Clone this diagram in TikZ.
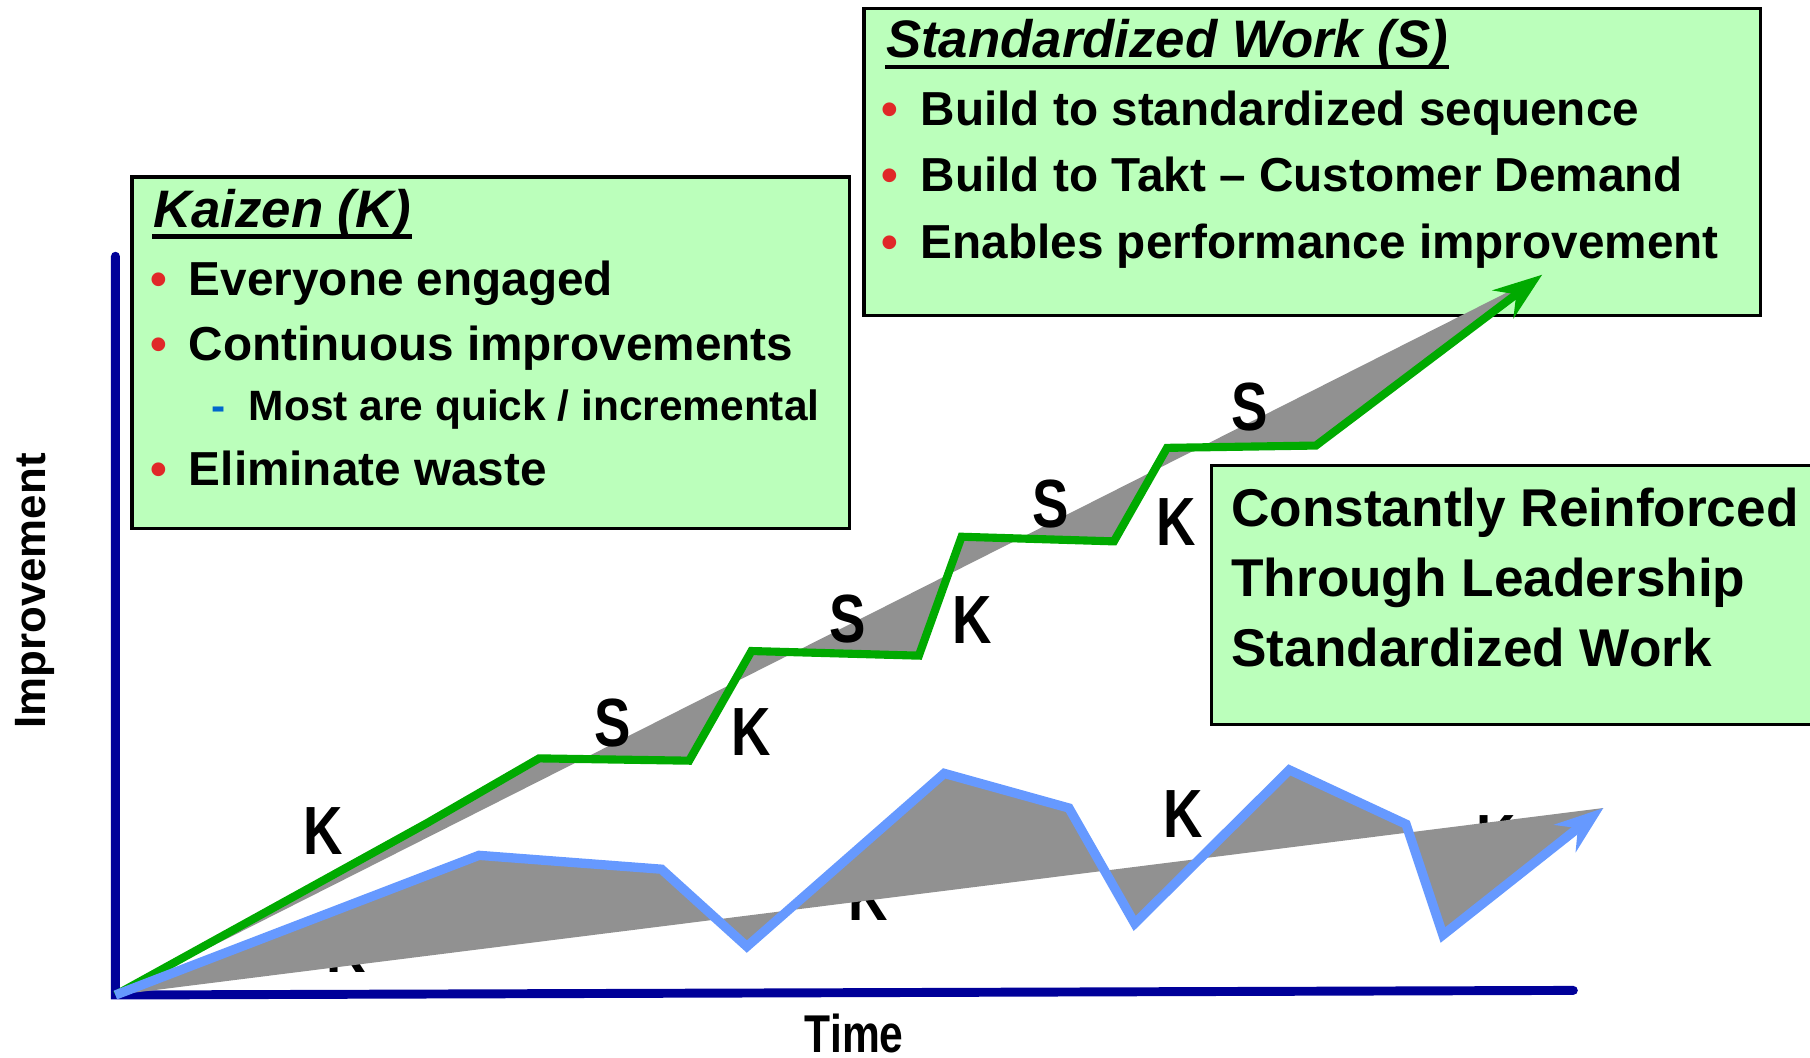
\documentclass[tikz,border=0pt]{standalone}
\usepackage{fontspec}
\setmainfont{Liberation Sans}
\newfontfamily\narrowfont[FakeStretch=0.8]{Liberation Sans}
\usepackage{tikz}
\usetikzlibrary{arrows.meta}
\definecolor{boxgreen}{RGB}{187,255,187}
\definecolor{linegreen}{RGB}{0,170,0}
\definecolor{lineblue}{RGB}{102,153,255}
\definecolor{bandgray}{RGB}{145,145,145}
\definecolor{axisblue}{RGB}{0,0,153}
\definecolor{bulletred}{RGB}{224,40,40}
\definecolor{dashblue}{RGB}{0,102,204}
\tikzstyle{infobox} = [rectangle, draw=black, line width=0.8pt, fill=boxgreen,
    anchor=north west, inner sep=0pt]
\tikzstyle{boxtitle} = [anchor=base west, inner sep=0pt,
    font=\bfseries\itshape\fontsize{13}{15}\selectfont]
\tikzstyle{boxline} = [anchor=base west, inner sep=0pt,
    font=\bfseries\fontsize{11.75}{14}\selectfont]
\tikzstyle{subline} = [anchor=base west, inner sep=0pt,
    font=\bfseries\fontsize{10.45}{12}\selectfont]
\tikzstyle{dot} = [anchor=base, inner sep=0pt, text=bulletred,
    font=\bfseries\fontsize{11.75}{14}\selectfont]
\tikzstyle{subdash} = [anchor=base, inner sep=0pt, text=dashblue,
    font=\bfseries\fontsize{10.45}{12}\selectfont]
\tikzstyle{leadline} = [anchor=base west, inner sep=0pt,
    font=\bfseries\fontsize{13.1}{15}\selectfont]
\tikzstyle{stepmark} = [inner sep=0pt, font=\narrowfont\bfseries\fontsize{16.8}{18}\selectfont]
\tikzstyle{titlerule} = [line width=1.1pt]
\tikzstyle{band} = [fill=bandgray]
\tikzstyle{greenpath} = [linegreen, line width=2pt,
    -{Stealth[length=12pt, width=8.5pt, inset=4pt]}]
\tikzstyle{bluepath} = [lineblue, line width=2.3pt,
    -{Stealth[length=12pt, width=8.5pt, inset=4pt]}]
\tikzstyle{axis} = [axisblue, line width=2.2pt, line cap=round]

\begin{document}
\begin{tikzpicture}[x=0.01cm, y=-0.01cm]
    \useasboundingbox (0,0) rectangle (1568,916.5);
    % Boxes
    \node[infobox, minimum width=6.21cm, minimum height=3.04cm] (kaizenbox) at (113,152) {};
    \node[infobox, minimum width=7.76cm, minimum height=2.66cm] (stdbox) at (747,6) {};
    \node[infobox, minimum width=5.40cm, minimum height=2.24cm] (leadbox) at (1048,402) {};
    % Kaizen text
    \node[boxtitle] (kztitle) at (132,197) {Kaizen (K)};
    \draw[titlerule] ([yshift=-2.3pt]kztitle.base west) -- ([yshift=-2.3pt]kztitle.base east);
    \node[dot] (kzdot1) at (138,256) {•};
    \node[boxline] (kzline1) at (163,256) {Everyone engaged};
    \node[dot] (kzdot2) at (138,312) {•};
    \node[boxline] (kzline2) at (163,312) {Continuous improvements};
    \node[subdash] (kzdash) at (189,364) {-};
    \node[subline] (kzsub) at (215,364) {Most are quick / incremental};
    \node[dot] (kzdot3) at (138,421) {•};
    \node[boxline] (kzline3) at (163,421) {Eliminate waste};
    % Standardized Work text
    \node[boxtitle] (swtitle) at (767,50) {Standardized Work (S)};
    \draw[titlerule] ([yshift=-2.3pt]swtitle.base west) -- ([yshift=-2.3pt]swtitle.base east);
    \node[dot] (swdot1) at (771,109) {•};
    \node[boxline] (swline1) at (797,109) {Build to standardized sequence};
    \node[dot] (swdot2) at (771,166) {•};
    \node[boxline] (swline2) at (797,166) {Build to Takt – Customer Demand};
    \node[dot] (swdot3) at (771,224) {•};
    \node[boxline] (swline3) at (797,224) {Enables performance improvement};
    % Leadership text
    \node[leadline] (lead1) at (1066,456) {Constantly Reinforced};
    \node[leadline] (lead2) at (1066,517) {Through Leadership};
    \node[leadline] (lead3) at (1066,577) {Standardized Work};
    % Axes
    \coordinate (ytop) at (100,222);
    \coordinate (origin) at (100,862);
    \coordinate (xend) at (1363,858);
    \draw[axis] (ytop) -- (origin) -- (xend);
    \node[rotate=90, font=\bfseries\fontsize{10.8}{12}\selectfont] (ylabel) at (30,512) {Improvement};
    \node[font=\narrowfont\bfseries\fontsize{13.1}{15}\selectfont] (xlabel) at (740,895) {Time};
    % Hidden marks
    \node[stepmark] (khid1) at (300,822) {K};
    \node[stepmark] (khid2) at (752,777) {K};
    \node[stepmark] (khid3) at (1296,727) {K};
    % Upper path
    \coordinate (g1) at (370,713);
    \coordinate (g2) at (467,657);
    \coordinate (g3) at (597,659);
    \coordinate (g4) at (651,564);
    \coordinate (g5) at (796,568);
    \coordinate (g6) at (833,465);
    \coordinate (g7) at (965,469);
    \coordinate (g8) at (1011,388);
    \coordinate (g9) at (1140,386);
    \coordinate (g10) at (1336,238);
    % Lower path
    \coordinate (b1) at (415,741);
    \coordinate (b2) at (573,753);
    \coordinate (b3) at (647,820);
    \coordinate (b4) at (818,670);
    \coordinate (b5) at (926,700);
    \coordinate (b6) at (983,800);
    \coordinate (b7) at (1117,667);
    \coordinate (b8) at (1218,714);
    \coordinate (b9) at (1250,810);
    \coordinate (b10) at (1389,700);
    % Bands
    \fill[band] (origin) -- (g1) -- (g2) -- (g3) -- (g4) -- (g5) -- (g6) -- (g7)
        -- (g8) -- (g9) -- (g10) -- cycle;
    \fill[band] (origin) -- (b1) -- (b2) -- (b3) -- (b4) -- (b5) -- (b6) -- (b7)
        -- (b8) -- (b9) -- (b10) -- cycle;
    % Lines
    \draw[greenpath] (origin) -- (g1) -- (g2) -- (g3) -- (g4) -- (g5) -- (g6)
        -- (g7) -- (g8) -- (g9) -- (g10);
    \draw[bluepath] (origin) -- (b1) -- (b2) -- (b3) -- (b4) -- (b5) -- (b6)
        -- (b7) -- (b8) -- (b9) -- (b10);
    % Marks
    \node[stepmark] (k1) at (280,720) {K};
    \node[stepmark] (s1) at (531,626) {S};
    \node[stepmark] (k2) at (651,634) {K};
    \node[stepmark] (s2) at (734,536) {S};
    \node[stepmark] (k3) at (842,537) {K};
    \node[stepmark] (s3) at (910,437) {S};
    \node[stepmark] (k4) at (1019,452) {K};
    \node[stepmark] (s4) at (1083,353) {S};
    \node[stepmark] (k5) at (1025,705) {K};
\end{tikzpicture}
\end{document}
